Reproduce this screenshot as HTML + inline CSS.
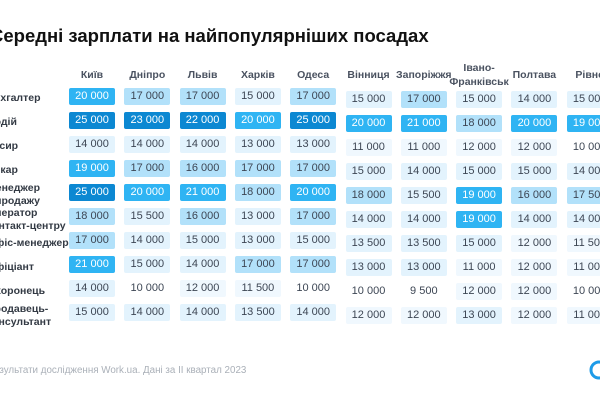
<!DOCTYPE html>
<html><head><meta charset="utf-8"><style>
body{margin:0;width:600px;height:400px;overflow:hidden;background:#fff;font-family:"Liberation Sans","Noto Sans CJK SC",sans-serif;position:relative}
.t{position:absolute;white-space:nowrap}
</style></head><body>
<div class="t" style="left:-10px;top:25px;font-size:18.5px;font-weight:bold;color:#111">Середні зарплати на найпопулярніших посадах</div>
<div id="grid"></div>
<div class="t" style="left:-12px;top:365px;font-size:9.8px;color:#aab0b8">Результати дослідження Work.ua. Дані за ІІ квартал 2023</div>
<svg style="position:absolute;left:585px;top:358px" width="20" height="24"><circle cx="14" cy="12" r="8" fill="none" stroke="#1e9be8" stroke-width="3"/></svg>
<script>
const cities=["Київ","Дніпро","Львів","Харків","Одеса","Вінниця","Запоріжжя","Івано-<br>Франківськ","Полтава","Рівне"];
const jobs=["Бухгалтер","Водій","Касир","Пекар","Менеджер<br>з продажу","Оператор<br>контакт-центру","Офіс-менеджер","Офіціант","Охоронець","Продавець-<br>консультант"];
const r0=[20000,17000,17000,15000,17000,15000,17000,15000,14000,15000];
const r1=[25000,23000,22000,20000,25000,20000,21000,18000,20000,19000];
const r2=[14000,14000,14000,13000,13000,11000,11000,12000,12000,10000];
const r3=[19000,17000,16000,17000,17000,15000,14000,15000,15000,14000];
const r4=[25000,20000,21000,18000,20000,18000,15500,19000,16000,17500];
const r5=[18000,15500,16000,13000,17000,14000,14000,19000,14000,14000];
const r6=[17000,14000,15000,13000,15000,13500,13500,15000,12000,11500];
const r7=[21000,15000,14000,17000,17000,13000,13000,11000,12000,11000];
const r8=[14000,10000,12000,11500,10000,10000,9500,12000,12000,10000];
const r9=[15000,14000,14000,13500,14000,12000,12000,13000,12000,11000];
const rows=[r0,r1,r2,r3,r4,r5,r6,r7,r8,r9];
function colX(c){return 92+c*55.3;}
function rowY(r,c){return 96+r*24.1+(c>=5?3:0);}
function fill(v){if(v>=22000)return["#0c88d2","#fff"];if(v>=19000)return["#2fb4f3","#fff"];if(v>=16000)return["#b2e1fa","#3d4654"];if(v>=13000)return["#e3f3fd","#3d4654"];if(v>=11000)return["#f0f8fe","#3d4654"];return["#fff","#3d4654"];}
const g=document.getElementById('grid');
cities.forEach((c,i)=>{const d=document.createElement('div');d.className='t';


const two=c.includes('<br>');d.style.cssText=`left:${colX(i)-40}px;width:80px;text-align:center;top:${two?61:68}px;font-size:10.5px;font-weight:bold;color:#4a5260;line-height:14px;white-space:normal`;d.innerHTML=c;g.appendChild(d);});
jobs.forEach((j,r)=>{const d=document.createElement('div');d.className='t';


const two=j.includes('<br>');d.style.cssText=`left:-13px;top:${rowY(r,0)-(two?10:4)}px;font-size:10.5px;font-weight:bold;color:#333a44;line-height:13px`;d.innerHTML=j;g.appendChild(d);});
rows.forEach((row,r)=>row.forEach((v,c)=>{const d=document.createElement('div');d.className='t';


const [bg,fg]=fill(v);d.style.cssText=`left:${colX(c)-23}px;top:${rowY(r,c)-8.5}px;width:46px;height:17px;line-height:17px;text-align:center;background:${bg};color:${fg};font-size:11px;border-radius:2px`;d.textContent=String(v).slice(0,-3)+' '+String(v).slice(-3);g.appendChild(d);}));
</script>
</body></html>
